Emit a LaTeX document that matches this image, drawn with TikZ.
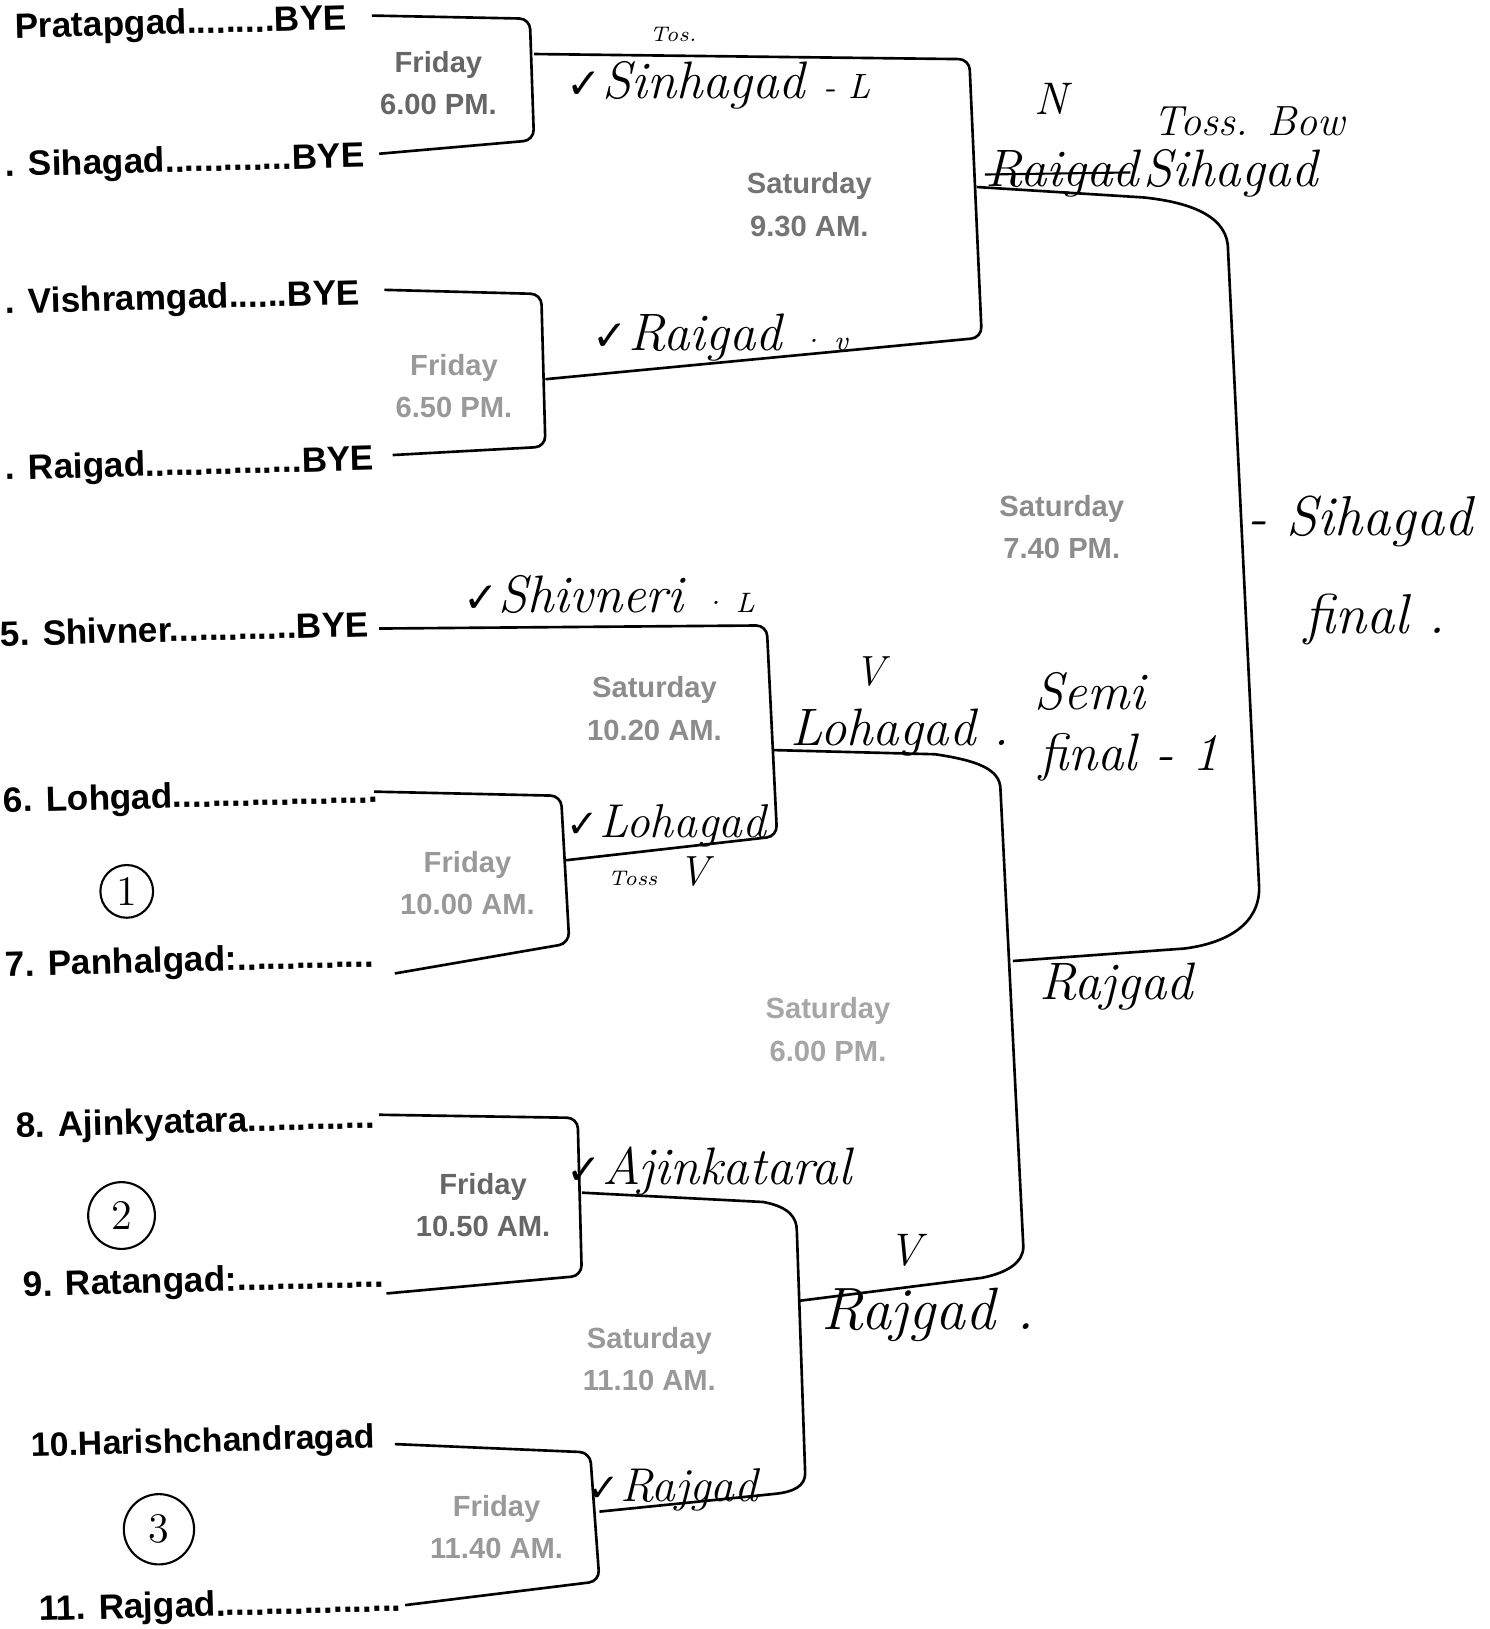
\documentclass[tikz,border=0pt]{standalone}
\usepackage{fontspec}
\newfontfamily\printf{Liberation Sans}
\newfontfamily\symf{DejaVu Sans}
\begin{document}
\begin{tikzpicture}[x=0.1039mm,y=-0.1039mm,
  team/.style={font=\printf\bfseries\fontsize{10}{12}\selectfont, anchor=base west, inner sep=0pt, rotate=1.5},
  timebox/.style={font=\printf\bfseries\fontsize{8.3}{12}\selectfont, align=center, inner sep=0pt},
  hw/.style={font=\itshape\fontsize{15}{18}\selectfont, anchor=base west, inner sep=0pt},
  hwsmall/.style={font=\itshape\fontsize{6}{7}\selectfont, anchor=base west, inner sep=0pt},
  br/.style={line width=0.75pt, rounded corners=3pt},
  cnum/.style={circle, draw, line width=0.6pt, inner sep=0pt, font=\fontsize{12}{14}\selectfont}
]
\useasboundingbox (0,0) rectangle (1434,1568);

% team names
\node[team] (t1) at (14,37) {Pratapgad.........BYE};
\node[team] (t2) at (5,170) {. Sihagad.............BYE};
\node[team] (t3) at (5,302) {. Vishramgad......BYE};
\node[team] (t4) at (5,462) {. Raigad................BYE};
\node[team] (t5) at (0,622) {5. Shivner.............BYE};
\node[team] (t6) at (3,782) {6. Lohgad.....................};
\node[team] (t7) at (5,940) {7. Panhalgad:..............};
\node[team] (t8) at (15,1095) {8. Ajinkyatara.............};
\node[team] (t9) at (22,1248) {9. Ratangad:...............};
\node[team, font=\printf\bfseries\fontsize{9.6}{12}\selectfont] (t10) at (30,1402) {10.Harishchandragad};
\node[team] (t11) at (37,1560) {11. Rajgad...................};

% brackets
\draw[br] (358,15) -- (510,18) -- (514,135) -- (365,148);
\draw[br] (370,279) -- (521,283) -- (525,430) -- (378,438);
\draw[br] (514,52) -- (933,57) -- (945,325) -- (525,365);
\draw[br] (365,605) -- (738,602) -- (748,805) -- (545,828);
\draw[br] (360,762) -- (540,766) -- (548,908) -- (380,937);
\draw[line width=0.75pt] (940,180) -- (1100,190) .. controls (1150,195) and (1182,210) .. (1182,240)
   -- (1212,855) .. controls (1212,890) and (1180,908) .. (1140,913) -- (975,925);
\draw[line width=0.75pt] (745,722) -- (900,726) .. controls (940,732) and (963,740) .. (963,760)
   -- (985,1200) .. controls (985,1215) and (970,1225) .. (945,1230) -- (770,1252);
\draw[br] (365,1073) -- (556,1076) -- (560,1228) -- (372,1245);
\draw[line width=0.75pt] (560,1148) -- (735,1157) .. controls (760,1162) and (767,1172) .. (767,1185)
   -- (775,1418) .. controls (775,1430) and (765,1436) .. (745,1438) -- (577,1455);
\draw[br] (380,1390) -- (568,1398) -- (577,1522) -- (390,1545);

% match times
\node[timebox, text=black!60] (mA) at (422,80) {Friday\\6.00 PM.};
\node[timebox, text=black!40] (mB) at (437,372) {Friday\\6.50 PM.};
\node[timebox, text=black!55] (mC) at (779,197) {Saturday\\9.30 AM.};
\node[timebox, text=black!45] (mD) at (630,682) {Saturday\\10.20 AM.};
\node[timebox, text=black!40] (mE) at (450,850) {Friday\\10.00 AM.};
\node[timebox, text=black!45] (mF) at (1022,507) {Saturday\\7.40 PM.};
\node[timebox, text=black!35] (mG) at (797,991) {Saturday\\6.00 PM.};
\node[timebox, text=black!60] (mH) at (465,1160) {Friday\\10.50 AM.};
\node[timebox, text=black!40] (mI) at (625,1308) {Saturday\\11.10 AM.};
\node[timebox, text=black!40] (mJ) at (478,1470) {Friday\\11.40 AM.};

% handwritten notes
\node[hwsmall] (h0) at (625,40) {Tos.};
\node[hw] (h1) at (545,95) {{\symf\fontsize{12}{14}\selectfont ✓}Sinhagad {\fontsize{10}{12}\selectfont - L}};
\node[hw] (h2) at (570,337) {{\symf\fontsize{12}{14}\selectfont ✓}Raigad {\fontsize{8}{10}\selectfont · v}};
\node[hw, font=\itshape\fontsize{13}{15}\selectfont] (h3) at (995,110) {N};
\node[hw, font=\itshape\fontsize{12}{14}\selectfont] (h4) at (1110,130) {Toss. Bow};
\node[hw] (h5) at (948,180) {Raigad};
\draw[line width=0.6pt] (h5.base west) ++(0,-12) -- ++(140,-2);
\node[hw] (h6) at (1100,180) {Sihagad};
\node[hw, font=\itshape\fontsize{16}{19}\selectfont] (h7) at (1200,515) {- Sihagad};
\node[hw, font=\itshape\fontsize{16}{19}\selectfont] (h8) at (1255,610) {final .};
\node[hw] (h9) at (995,683) {Semi};
\node[hw] (h10) at (1000,742) {final - 1};
\node[hw] (h11) at (445,590) {{\symf\fontsize{12}{14}\selectfont ✓}Shivneri {\fontsize{8}{10}\selectfont · L}};
\node[hw, font=\itshape\fontsize{12}{14}\selectfont] (h12) at (822,660) {V};
\node[hw] (h13) at (760,718) {Lohagad .};
\node[hw, font=\itshape\fontsize{13.5}{16}\selectfont] (h14) at (545,806) {{\symf\fontsize{11}{13}\selectfont ✓}Lohagad};
\node[hwsmall] (h15) at (585,852) {Toss};
\node[hw, font=\itshape\fontsize{12}{14}\selectfont] (h16) at (652,852) {V};
\node[hw] (h17) at (1000,962) {Rajgad};
\node[hw] (h18) at (545,1140) {{\symf\fontsize{12}{14}\selectfont ✓}Ajinkataral};
\node[hw, font=\itshape\fontsize{13}{15}\selectfont] (h19) at (855,1218) {V};
\node[hw, font=\itshape\fontsize{17}{20}\selectfont] (h20) at (790,1280) {Rajgad .};
\node[hw, font=\itshape\fontsize{13.5}{16}\selectfont] (h21) at (565,1445) {{\symf\fontsize{11}{13}\selectfont ✓}Rajgad};

% circled numbers
\node[cnum, minimum size=15pt] (c1) at (122,858) {1};
\node[cnum, minimum size=19pt] (c2) at (117,1170) {2};
\node[cnum, minimum size=20pt] (c3) at (153,1472) {3};
\end{tikzpicture}
\end{document}
